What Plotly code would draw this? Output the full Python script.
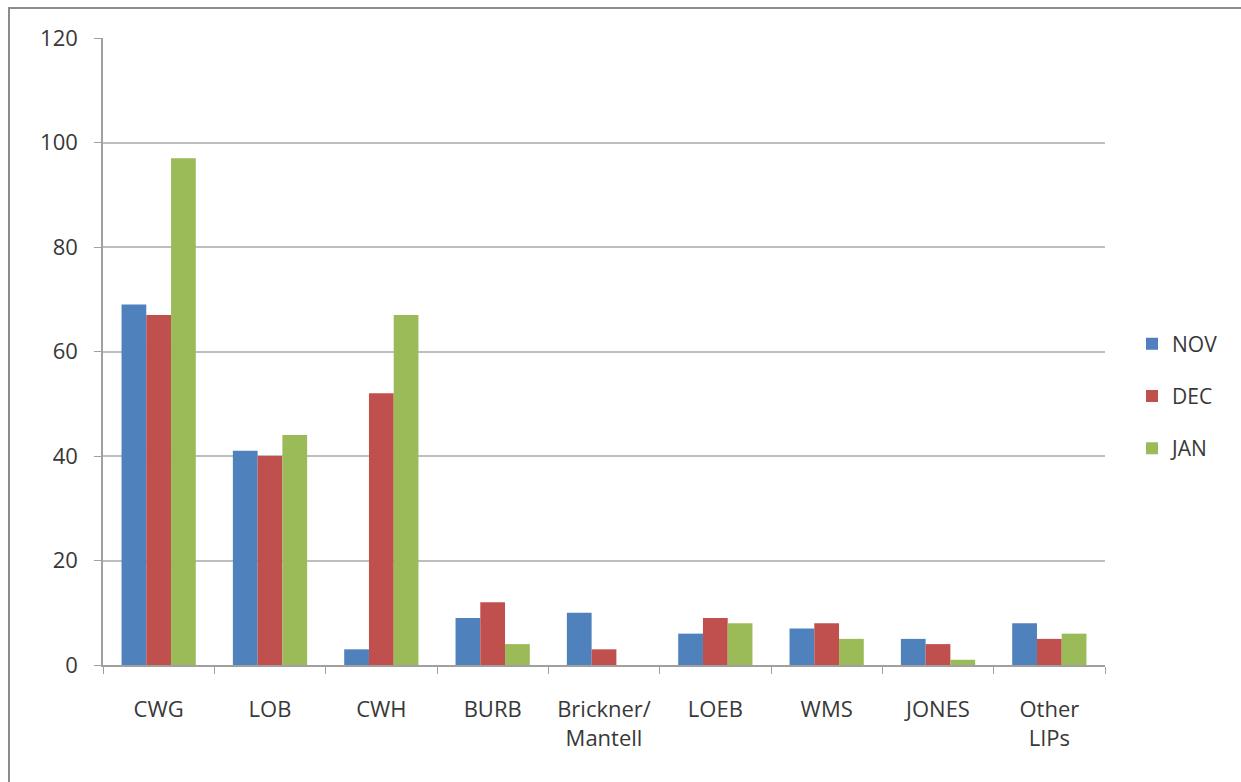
import plotly.graph_objects as go

categories = ["CWG", "LOB", "CWH", "BURB", "Brickner/Mantell", "LOEB", "WMS", "JONES", "Other LIPs"]
category_labels = ["CWG", "LOB", "CWH", "BURB", "Brickner/<br>Mantell", "LOEB", "WMS", "JONES", "Other<br>LIPs"]
nov = [69, 41, 3, 9, 10, 6, 7, 5, 8]
dec = [67, 40, 52, 12, 3, 9, 8, 4, 5]
jan = [97, 44, 67, 4, 0, 8, 5, 1, 6]
series_names = ["NOV", "DEC", "JAN"]
series_colors = ["#4F81BD", "#C0504D", "#9BBB59"]
y_ticks = [0, 20, 40, 60, 80, 100, 120]

W, H = 1241, 782
ML, MR, MT, MB = 103, 136, 38, 117
FONT = "Open Sans, Lato, sans-serif"
TEXT = "#383838"
AXIS = "#A0A0A0"

fig = go.Figure()
for name, vals, color in zip(series_names, [nov, dec, jan], series_colors):
    fig.add_trace(go.Bar(
        x=categories, y=vals, name=name, legendgroup=name,
        marker=dict(color=color, line=dict(width=0)),
    ))

pw = W - ML - MR
ph = H - MT - MB


def px_x(x):
    return (x - ML) / pw


def px_y(y):
    return (H - MB - y) / ph


fig.update_layout(
    width=W, height=H,
    margin=dict(l=ML, r=MR, t=MT, b=MB),
    paper_bgcolor="white", plot_bgcolor="white",
    barmode="group", bargap=0.333, bargroupgap=0,
    font=dict(family=FONT, size=22, color=TEXT),
    legend=dict(
        x=px_x(1132), y=px_y(396), xanchor="left", yanchor="middle",
        font=dict(size=21, color=TEXT),
        traceorder="grouped", tracegroupgap=22,
        itemclick=False,
    ),
    xaxis=dict(
        type="category", categoryorder="array", categoryarray=categories,
        tickvals=categories, ticktext=category_labels,
        showgrid=False, showline=True, linecolor=AXIS, linewidth=1.5,
        ticks="outside", tickson="boundaries", ticklen=7, tickcolor=AXIS,
        ticklabelstandoff=24,
    ),
    yaxis=dict(
        range=[0, 120], tickvals=y_ticks,
        showgrid=True, gridcolor="#BEBEBE", gridwidth=1.5,
        showline=True, linecolor=AXIS, linewidth=1.5,
        ticks="outside", ticklen=7, tickcolor=AXIS,
        zeroline=False, ticklabelstandoff=12,
    ),
    shapes=[dict(
        type="rect", xref="paper", yref="paper",
        x0=px_x(9), x1=px_x(W + 10), y0=px_y(H + 10), y1=px_y(8),
        line=dict(color="#8C8C8C", width=2), fillcolor="rgba(0,0,0,0)",
        layer="below",
    )],
)

fig.write_html("out.html")
